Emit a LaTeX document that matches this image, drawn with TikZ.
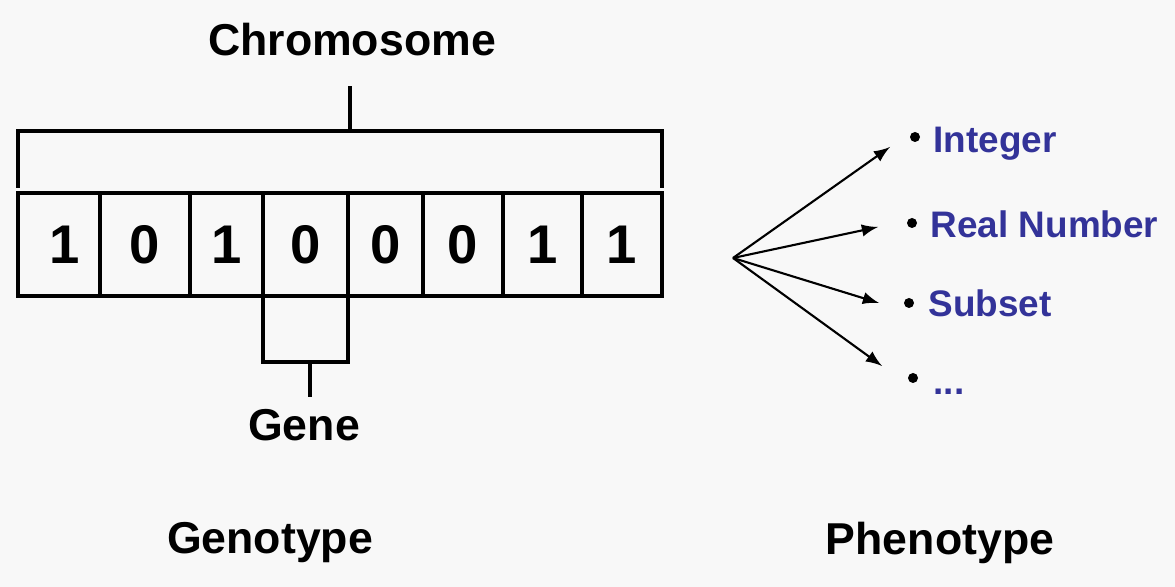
\documentclass[tikz,border=0pt]{standalone}
\usepackage{fontspec}
\setmainfont{Liberation Sans}
\usepackage{tikz}
\usetikzlibrary{shapes}
\usetikzlibrary{shapes.geometric}
\pgfdeclarelayer{paperlayer}
\pgfdeclarelayer{edgelayer}
\pgfdeclarelayer{nodelayer}
\pgfsetlayers{paperlayer,edgelayer,nodelayer,main}
\tikzstyle{none}=[inner sep=0pt]
\tikzstyle{label}=[inner sep=0pt, font=\fontsize{12.7}{15}\selectfont\bfseries]
\tikzstyle{item}=[inner sep=0pt, anchor=base west, text=blueitem, font=\fontsize{10.5}{13}\selectfont\bfseries]
\tikzstyle{bit}=[inner sep=0pt, draw, line width=1pt, minimum height=1.03cm, font=\fontsize{15.5}{19}\selectfont\bfseries]
\tikzstyle{dot}=[inner sep=0pt, circle, fill=black, minimum size=1mm]
\definecolor{blueitem}{rgb}{0.2,0.2,0.6}
\definecolor{paper}{rgb}{0.973,0.973,0.973}

\begin{document}
\begin{tikzpicture}
	\begin{pgfonlayer}{paperlayer}
		\fill [paper] (0, 0) rectangle (11.75, 5.87);
	\end{pgfonlayer}
	\useasboundingbox (0, 0) rectangle (11.75, 5.87);
	\begin{pgfonlayer}{nodelayer}
		\node [style=bit, minimum width=0.82cm] (0) at (0.59, 3.425) {\hspace{0.12cm}1};
		\node [style=bit, minimum width=0.90cm] (1) at (1.45, 3.425) {0};
		\node [style=bit, minimum width=0.73cm] (2) at (2.265, 3.425) {1};
		\node [style=bit, minimum width=0.85cm] (3) at (3.055, 3.425) {0};
		\node [style=bit, minimum width=0.75cm] (4) at (3.855, 3.425) {0};
		\node [style=bit, minimum width=0.80cm] (5) at (4.63, 3.425) {0};
		\node [style=bit, minimum width=0.79cm] (6) at (5.425, 3.425) {1};
		\node [style=bit, minimum width=0.80cm] (7) at (6.22, 3.425) {1};
		\node [style=label] (8) at (3.52, 5.47) {Chromosome};
		\node [style=none] (9) at (0.18, 3.99) {};
		\node [style=none] (10) at (0.18, 4.56) {};
		\node [style=none] (11) at (6.62, 4.56) {};
		\node [style=none] (12) at (6.62, 3.99) {};
		\node [style=none] (13) at (3.50, 4.56) {};
		\node [style=none] (14) at (3.50, 5.01) {};
		\node [style=none] (15) at (2.63, 2.25) {};
		\node [style=none] (16) at (3.48, 2.25) {};
		\node [style=none] (17) at (3.10, 2.25) {};
		\node [style=none] (18) at (3.10, 1.90) {};
		\node [style=label] (19) at (3.04, 1.62) {Gene};
		\node [style=label] (20) at (2.70, 0.44) {Genotype};
		\node [style=label] (21) at (9.40, 0.44) {Phenotype};
		\node [style=none] (22) at (7.33, 3.29) {};
		\node [style=none] (23) at (8.90, 4.40) {};
		\node [style=none] (24) at (8.78, 3.60) {};
		\node [style=none] (25) at (8.79, 2.84) {};
		\node [style=none] (26) at (8.82, 2.21) {};
		\node [style=dot] (27) at (9.15, 4.50) {};
		\node [style=dot] (28) at (9.12, 3.64) {};
		\node [style=dot] (29) at (9.09, 2.84) {};
		\node [style=dot] (30) at (9.13, 2.09) {};
		\node [style=item] (31) at (9.33, 4.34) {Integer};
		\node [style=item] (32) at (9.30, 3.49) {Real Number};
		\node [style=item] (33) at (9.28, 2.70) {Subset};
		\node [style=item] (34) at (9.33, 1.92) {...};
	\end{pgfonlayer}
	\begin{pgfonlayer}{edgelayer}
		\draw [line width=1pt] (9.center) to (10.center) to (11.center) to (12.center);
		\draw [line width=1pt] (13.center) to (14.center);
		\draw [line width=1pt] (15.center |- 3.south west) to (15.center) to (16.center) to (16.center |- 3.south east);
		\draw [line width=1pt] (17.center) to (18.center);
		\draw [-latex, line width=0.6pt] (22.center) to (23.center);
		\draw [-latex, line width=0.6pt] (22.center) to (24.center);
		\draw [-latex, line width=0.6pt] (22.center) to (25.center);
		\draw [-latex, line width=0.6pt] (22.center) to (26.center);
	\end{pgfonlayer}
\end{tikzpicture}
\end{document}
